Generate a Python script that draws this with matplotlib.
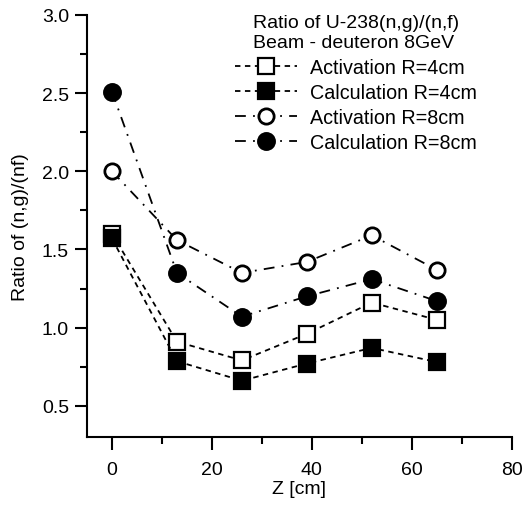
import matplotlib
matplotlib.use("Agg")
import matplotlib.pyplot as plt
from matplotlib.ticker import MultipleLocator

plt.rcParams['font.family'] = ['Liberation Sans', 'DejaVu Sans']

# data
z = [0, 13, 26, 39, 52, 65]
act4 = [1.60, 0.91, 0.79, 0.96, 1.16, 1.05]
calc4 = [1.57, 0.785, 0.66, 0.77, 0.87, 0.78]
act8 = [2.00, 1.56, 1.35, 1.42, 1.59, 1.37]
calc8 = [2.51, 1.35, 1.07, 1.20, 1.31, 1.17]

labels = ["Activation R=4cm", "Calculation R=4cm",
          "Activation R=8cm", "Calculation R=8cm"]
title_lines = ["Ratio of U-238(n,g)/(n,f)", "Beam - deuteron 8GeV"]

fig = plt.figure(figsize=(5.22, 5.06), dpi=100)
ax = fig.add_axes([0.1667, 0.1344, 0.8133, 0.834])

dash = (0, (3, 2.5))
dashdot = (0, (6, 4, 1, 4))
lw = 1.3
ms = 12
mew = 1.6

ax.plot(z, act4, linestyle=dash, color='black', lw=lw, marker='s', ms=ms,
        mfc='white', mec='black', mew=mew, label=labels[0])
ax.plot(z, calc4, linestyle=dash, color='black', lw=lw, marker='s', ms=ms,
        mfc='black', mec='black', mew=mew, label=labels[1])
ax.plot(z, act8, linestyle=dashdot, color='black', lw=lw, marker='o', ms=ms - 1,
        mfc='white', mec='black', mew=mew + 0.4, label=labels[2])
ax.plot(z, calc8, linestyle=dashdot, color='black', lw=lw, marker='o', ms=ms,
        mfc='black', mec='black', mew=mew, label=labels[3])

ax.set_xlim(-5, 80)
ax.set_ylim(0.3, 3.0)
ax.xaxis.set_major_locator(MultipleLocator(20))
ax.xaxis.set_minor_locator(MultipleLocator(10))
ax.yaxis.set_minor_locator(MultipleLocator(0.25))
ax.set_yticks([0.5, 1.0, 1.5, 2.0, 2.5, 3.0])

for s in ['top', 'right']:
    ax.spines[s].set_visible(False)
for s in ['left', 'bottom']:
    ax.spines[s].set_linewidth(1.5)

ax.tick_params(which='major', direction='out', length=9, width=1.5, labelsize=14)
ax.tick_params(which='minor', direction='out', length=5, width=1.5)
ax.tick_params(axis='x', which='major', pad=8)
ax.tick_params(axis='y', which='major', pad=4)

ax.set_xlabel("Z [cm]", fontsize=14, labelpad=2)
ax.set_ylabel("Ratio of (n,g)/(nf)", fontsize=14, labelpad=9)

# legend header, two lines
fig.text(0.485, 0.9526, title_lines[0], fontsize=14, va='center', ha='left')
fig.text(0.485, 0.915, title_lines[1], fontsize=14, va='center', ha='left')

leg = ax.legend(loc='upper left', bbox_to_anchor=(0.3486, 0.898),
                frameon=False, fontsize=14.2,
                handlelength=3.15, handletextpad=0.66, labelspacing=0.3,
                borderpad=0, borderaxespad=0)

fig.savefig("out.png", dpi=100)
